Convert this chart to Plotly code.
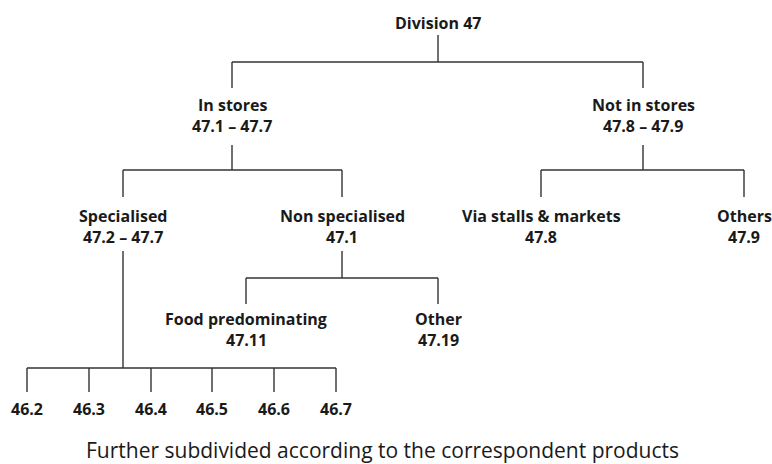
import plotly.graph_objects as go

# ---- data: tree nodes ----
labels = ["Division 47", "In stores", "Not in stores", "Specialised", "Non specialised",
          "Via stalls & markets", "Others", "Food predominating", "Other",
          "46.2", "46.3", "46.4", "46.5", "46.6", "46.7"]
codes = ["", "47.1 – 47.7", "47.8 – 47.9", "47.2 – 47.7", "47.1",
         "47.8", "47.9", "47.11", "47.19", "", "", "", "", "", ""]
parents = [None, 0, 0, 1, 1, 2, 2, 4, 4, 3, 3, 3, 3, 3, 3]
footnote = "Further subdivided according to the correspondent products"

# ---- layout (pixel positions in the 772x464 window) ----
W, H = 772, 464
node_x = [438, 232, 643, 123, 342, 541, 744, 246, 438, 27, 89, 151, 212, 274, 336]
node_y = [23, 105, 105, 216, 216, 216, 216, 319, 319, 409, 409, 409, 409, 409, 409]
line_gap = 21
# connector geometry per parent: (bottom of parent, bus y, top of children)
conn = {0: (35, 62, 88), 1: (145, 170, 197), 2: (145, 170, 197),
        4: (251, 278, 304), 3: (251, 368, 392)}
foot_x, foot_y = 382, 450

TXT = "#1a1a1a"
LN = "#333333"
FONT = "Open Sans"

fig = go.Figure()

# connectors
xs, ys = [], []
for p, (yb, ybus, yt) in conn.items():
    kids = [i for i, q in enumerate(parents) if q == p]
    kx = [node_x[k] for k in kids]
    xs += [node_x[p], node_x[p], None]
    ys += [yb, ybus, None]
    xs += [min(kx + [node_x[p]]), max(kx + [node_x[p]]), None]
    ys += [ybus, ybus, None]
    for k in kids:
        xs += [node_x[k], node_x[k], None]
        ys += [ybus, yt, None]

fig.add_trace(go.Scatter(x=xs, y=ys, mode="lines",
                         line=dict(color=LN, width=1.4),
                         hoverinfo="skip", showlegend=False))

ann = []
for i, lab in enumerate(labels):
    ann.append(dict(x=node_x[i], y=node_y[i], text="<b>%s</b>" % lab, showarrow=False,
                    xanchor="center", yanchor="middle",
                    font=dict(family=FONT, size=16, color=TXT)))
    if codes[i]:
        ann.append(dict(x=node_x[i], y=node_y[i] + line_gap, text="<b>%s</b>" % codes[i],
                        showarrow=False, xanchor="center", yanchor="middle",
                        font=dict(family=FONT, size=16, color=TXT)))
ann.append(dict(x=foot_x, y=foot_y, text=footnote, showarrow=False,
                xanchor="center", yanchor="middle",
                font=dict(family=FONT, size=21, color=TXT)))

fig.update_layout(
    width=W, height=H, margin=dict(l=0, r=0, t=0, b=0),
    paper_bgcolor="white", plot_bgcolor="white",
    xaxis=dict(range=[0, W], visible=False, fixedrange=True),
    yaxis=dict(range=[H, 0], visible=False, fixedrange=True),
    annotations=ann,
)
fig.write_html(
    "out.html",
    config={"displayModeBar": False},
    post_script="document.body.style.margin='0';"
                "document.documentElement.style.overflow='hidden';"
                "document.body.style.overflow='hidden';",
)
